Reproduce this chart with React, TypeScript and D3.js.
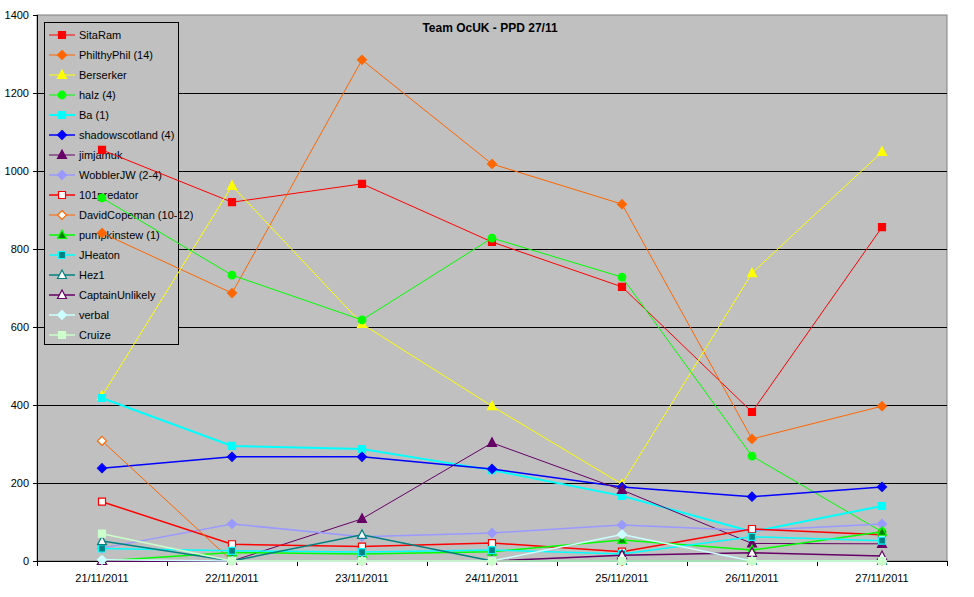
import React from "react";
import * as d3 from "d3";

const categories = ["21/11/2011", "22/11/2011", "23/11/2011", "24/11/2011", "25/11/2011", "26/11/2011", "27/11/2011"];
const yTicks = [0, 200, 400, 600, 800, 1000, 1200, 1400];

const sitaRam = [1054, 920, 967, 818, 703, 382, 856];
const philthyPhil = [841, 687, 1285, 1018, 915, 313, 397];
const berserker = [423, 962, 608, 397, 197, 738, 1049];
const halz = [931, 733, 618, 828, 728, 269, 75];
const ba = [418, 295, 287, 233, 167, 75, 141];
const shadowscotland = [238, 267, 267, 236, 190, 165, 190];
const jimjamuk = [0, 0, 108, 303, 182, 45, 44];
const wobblerJW = [33, 95, 62, 72, 92, 78, 95];
const predator101 = [152, 43, 37, 46, 24, 82, 67];
const davidCopeman = [308, 0, 0, 0, 0, 0, 0];
const pumpkinstew = [0, 22, 18, 24, 54, 28, 75];
const jHeaton = [32, 26, 23, 28, 18, 62, 52];
const hez1 = [51, 0, 67, 0, 0, 0, 0];
const captainUnlikely = [0, 0, 0, 0, 15, 21, 13];
const verbal = [3, 0, 0, 0, 68, 0, 0];
const cruize = [70, 0, 0, 0, 0, 0, 0];

type Marker = "square" | "diamond" | "triangle" | "circle";
interface Series {
  name: string;
  values: number[];
  stroke: string;
  marker: Marker;
  fill: string;
  mstroke: string;
  width: number;
}

const series: Series[] = [
  { name: "SitaRam", values: sitaRam, stroke: "#FF0000", marker: "square", fill: "#FF0000", mstroke: "#FF0000", width: 1 },
  { name: "PhilthyPhil (14)", values: philthyPhil, stroke: "#FF6600", marker: "diamond", fill: "#FF6600", mstroke: "#FF6600", width: 1 },
  { name: "Berserker", values: berserker, stroke: "#FFFF00", marker: "triangle", fill: "#FFFF00", mstroke: "#FFFF00", width: 1 },
  { name: "halz (4)", values: halz, stroke: "#00FF00", marker: "circle", fill: "#00FF00", mstroke: "#00FF00", width: 1 },
  { name: "Ba (1)", values: ba, stroke: "#00FFFF", marker: "square", fill: "#00FFFF", mstroke: "#00FFFF", width: 2 },
  { name: "shadowscotland (4)", values: shadowscotland, stroke: "#0000FF", marker: "diamond", fill: "#0000FF", mstroke: "#0000FF", width: 1.5 },
  { name: "jimjamuk", values: jimjamuk, stroke: "#660066", marker: "triangle", fill: "#660066", mstroke: "#660066", width: 1 },
  { name: "WobblerJW (2-4)", values: wobblerJW, stroke: "#9999FF", marker: "diamond", fill: "#9999FF", mstroke: "#9999FF", width: 1.5 },
  { name: "101predator", values: predator101, stroke: "#FF0000", marker: "square", fill: "#FFFFFF", mstroke: "#FF0000", width: 1.5 },
  { name: "DavidCopeman (10-12)", values: davidCopeman, stroke: "#FF6600", marker: "diamond", fill: "#FFFFFF", mstroke: "#FF6600", width: 1 },
  { name: "pumpkinstew (1)", values: pumpkinstew, stroke: "#00FF00", marker: "triangle", fill: "#008000", mstroke: "#00FF00", width: 1.5 },
  { name: "JHeaton", values: jHeaton, stroke: "#00FFFF", marker: "square", fill: "#008080", mstroke: "#00FFFF", width: 1.5 },
  { name: "Hez1", values: hez1, stroke: "#008080", marker: "triangle", fill: "#FFFFFF", mstroke: "#008080", width: 1.5 },
  { name: "CaptainUnlikely", values: captainUnlikely, stroke: "#660066", marker: "triangle", fill: "#FFFFFF", mstroke: "#660066", width: 1.5 },
  { name: "verbal", values: verbal, stroke: "#CCFFFF", marker: "diamond", fill: "#CCFFFF", mstroke: "#CCFFFF", width: 1.5 },
  { name: "Cruize", values: cruize, stroke: "#CCFFCC", marker: "square", fill: "#CCFFCC", mstroke: "#CCFFCC", width: 1.5 },
];

const W = 974;
const H = 597;
const plotLeft = 37;
const plotRight = 947;
const plotTop = 15;
const plotBottom = 561;
const FONT = "Arial, 'Liberation Sans', sans-serif";

function markerPath(m: Marker, cx: number, cy: number): string {
  const s = 3.5;
  switch (m) {
    case "square":
      return `M${cx - s},${cy - s}H${cx + s}V${cy + s}H${cx - s}Z`;
    case "diamond":
      return `M${cx},${cy - 4.5}L${cx + 4.5},${cy}L${cx},${cy + 4.5}L${cx - 4.5},${cy}Z`;
    case "triangle":
      return `M${cx},${cy - 5}L${cx + 4.5},${cy + 3.5}L${cx - 4.5},${cy + 3.5}Z`;
    case "circle":
      return `M${cx - 3.8},${cy}a3.8,3.8 0 1,0 7.6,0a3.8,3.8 0 1,0 -7.6,0Z`;
  }
}

export default function App() {
  const x = d3.scaleBand<string>().domain(categories).range([plotLeft, plotRight]).padding(0);
  const cx = (c: string) => (x(c) as number) + x.bandwidth() / 2;
  const y = d3.scaleLinear().domain([0, 1400]).range([plotBottom, plotTop]);
  const line = d3
    .line<number>()
    .x((_, i) => cx(categories[i]))
    .y((v) => y(v));

  const boundaries = [...categories.map((c) => x(c) as number), plotRight];

  return (
    <svg width={W} height={H} style={{ position: "absolute", left: 0, top: 0, background: "#fff" }}>
      <rect x={0} y={0} width={W} height={H} fill="#fff" />
      <rect x={plotLeft} y={plotTop} width={plotRight - plotLeft} height={plotBottom - plotTop} fill="#C0C0C0" stroke="#808080" strokeWidth={1} />
      {yTicks.filter((t) => t > 0 && t < 1400).map((t) => (
        <line key={t} x1={plotLeft} x2={plotRight} y1={Math.round(y(t)) + 0.5} y2={Math.round(y(t)) + 0.5} stroke="#000" strokeWidth={1} />
      ))}
      {/* axes */}
      <line x1={plotLeft + 0.5} x2={plotLeft + 0.5} y1={plotTop} y2={plotBottom} stroke="#000" />
      <line x1={plotLeft} x2={plotRight} y1={plotBottom + 0.5} y2={plotBottom + 0.5} stroke="#000" />
      {yTicks.map((t) => (
        <g key={t}>
          <line x1={plotLeft - 4} x2={plotLeft} y1={Math.round(y(t)) + 0.5} y2={Math.round(y(t)) + 0.5} stroke="#000" />
          <text x={plotLeft - 8} y={y(t)} dy="0.35em" textAnchor="end" fontFamily={FONT} fontSize={11} fill="#000">
            {t}
          </text>
        </g>
      ))}
      {boundaries.map((b, i) => (
        <line key={i} x1={Math.round(b) + 0.5} x2={Math.round(b) + 0.5} y1={plotBottom} y2={plotBottom + 5} stroke="#000" />
      ))}
      {categories.map((c) => (
        <text key={c} x={cx(c)} y={582} textAnchor="middle" fontFamily={FONT} fontSize={11} fill="#000">
          {c}
        </text>
      ))}
      <text x={490} y={32} textAnchor="middle" fontFamily={FONT} fontSize={12} fontWeight="bold" fill="#000">
        Team OcUK - PPD 27/11
      </text>
      {/* legend (drawn beneath the series, as in the reference) */}
      <rect x={44.5} y={22.5} width={134} height={322} fill="#C0C0C0" stroke="#000" strokeWidth={1} />
      {series.map((s, i) => {
        const ly = 35 + i * 20;
        return (
          <g key={s.name}>
            <line x1={49} x2={75} y1={ly} y2={ly} stroke={s.stroke} strokeWidth={s.width} />
            <path d={markerPath(s.marker, 62, ly)} fill={s.fill} stroke={s.mstroke} strokeWidth={1.2} />
            <text x={79} y={ly} dy="0.35em" fontFamily={FONT} fontSize={11} fill="#000">
              {s.name}
            </text>
          </g>
        );
      })}
      {/* series */}
      {series.map((s) => (
        <g key={s.name}>
          <path d={line(s.values) as string} fill="none" stroke={s.stroke} strokeWidth={s.width} />
          {s.values.map((v, i) => (
            <path key={i} d={markerPath(s.marker, cx(categories[i]), y(v))} fill={s.fill} stroke={s.mstroke} strokeWidth={1.2} />
          ))}
        </g>
      ))}
    </svg>
  );
}
